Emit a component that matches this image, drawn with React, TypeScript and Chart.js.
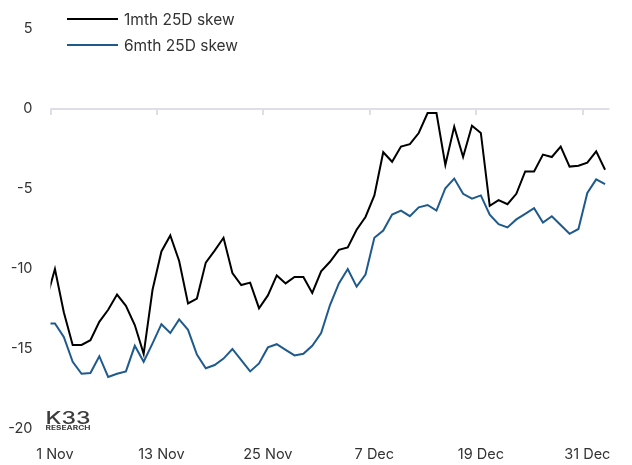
import React, { useEffect, useRef } from "react";
import { Chart, registerables } from "chart.js";

Chart.register(...registerables);

// Daily dates; the first (31 Oct) sits just left of the visible range so the line enters from the edge.
const dates = [
  "31 Oct",
  "1 Nov", "2 Nov", "3 Nov", "4 Nov", "5 Nov", "6 Nov", "7 Nov", "8 Nov", "9 Nov", "10 Nov",
  "11 Nov", "12 Nov", "13 Nov", "14 Nov", "15 Nov", "16 Nov", "17 Nov", "18 Nov", "19 Nov", "20 Nov",
  "21 Nov", "22 Nov", "23 Nov", "24 Nov", "25 Nov", "26 Nov", "27 Nov", "28 Nov", "29 Nov", "30 Nov",
  "1 Dec", "2 Dec", "3 Dec", "4 Dec", "5 Dec", "6 Dec", "7 Dec", "8 Dec", "9 Dec", "10 Dec",
  "11 Dec", "12 Dec", "13 Dec", "14 Dec", "15 Dec", "16 Dec", "17 Dec", "18 Dec", "19 Dec", "20 Dec",
  "21 Dec", "22 Dec", "23 Dec", "24 Dec", "25 Dec", "26 Dec", "27 Dec", "28 Dec", "29 Dec", "30 Dec",
  "31 Dec", "1 Jan", "2 Jan",
];

const skew1m = [
  -12.0,
  -10.0, -12.7, -14.75, -14.75, -14.45, -13.3, -12.55, -11.6, -12.3, -13.5,
  -15.3, -11.3, -8.9, -7.9, -9.5, -12.15, -11.85, -9.6, -8.85, -8.05,
  -10.25, -11.0, -10.85, -12.45, -11.65, -10.4, -10.9, -10.5, -10.5, -11.5,
  -10.15, -9.55, -8.8, -8.65, -7.55, -6.75, -5.4, -2.7, -3.3, -2.35,
  -2.2, -1.5, -0.25, -0.25, -3.5, -1.1, -3.0, -1.05, -1.5, -6.05,
  -5.7, -5.95, -5.3, -3.9, -3.9, -2.85, -3.0, -2.35, -3.6, -3.55,
  -3.35, -2.65, -3.8,
];

const skew6m = [
  -13.4,
  -13.4, -14.25, -15.8, -16.55, -16.5, -15.45, -16.75, -16.55, -16.4, -14.8,
  -15.8, -14.65, -13.45, -14.0, -13.15, -13.8, -15.35, -16.2, -16.0, -15.6,
  -15.0, -15.7, -16.4, -15.9, -14.9, -14.7, -15.05, -15.4, -15.3, -14.8,
  -14.0, -12.25, -10.9, -10.0, -11.1, -10.35, -8.05, -7.6, -6.6, -6.35,
  -6.7, -6.15, -6.0, -6.35, -4.95, -4.35, -5.3, -5.6, -5.4, -6.6,
  -7.2, -7.4, -6.9, -6.55, -6.2, -7.1, -6.7, -7.25, -7.8, -7.5,
  -5.25, -4.4, -4.7,
];

const tickDates = ["1 Nov", "13 Nov", "25 Nov", "7 Dec", "19 Dec", "31 Dec"];
const firstDate = "1 Nov";
const lastDate = "2 Jan";
const yMin = -20;
const yMax = 5;
const yStep = 5;

const seriesNames = ["1mth 25D skew", "6mth 25D skew"];
const seriesColors = ["#000000", "#1F5A8C"];

const FONT = "Inter, 'Open Sans', sans-serif";
const TEXT = "#333333";

// Horizontal axis line at zero with small tick marks between categories.
const zeroAxisPlugin = {
  id: "zeroAxis",
  beforeDatasetsDraw(chart: any) {
    const { ctx, chartArea, scales } = chart;
    const x = scales.x;
    const y = scales.y;
    const y0 = y.getPixelForValue(0);
    const half = (x.getPixelForValue(1) - x.getPixelForValue(0)) / 2;
    ctx.save();
    ctx.strokeStyle = "#DCE0E6";
    ctx.lineWidth = 2;
    ctx.beginPath();
    ctx.moveTo(chartArea.left, y0);
    ctx.lineTo(chartArea.right, y0);
    tickDates.forEach((d) => {
      const idx = dates.indexOf(d);
      const px = Math.round(x.getPixelForValue(idx) - half);
      ctx.moveTo(px, y0);
      ctx.lineTo(px, y0 + 6);
    });
    ctx.stroke();
    ctx.restore();
  },
};

// Legend drawn in the upper-left corner, over the plot.
const legendPlugin = {
  id: "cornerLegend",
  afterDraw(chart: any) {
    const { ctx } = chart;
    ctx.save();
    chart.data.datasets.forEach((ds: any, i: number) => {
      const yy = 19 + i * 26;
      ctx.strokeStyle = ds.borderColor;
      ctx.lineWidth = 2;
      ctx.beginPath();
      ctx.moveTo(67, yy);
      ctx.lineTo(118, yy);
      ctx.stroke();
      ctx.fillStyle = TEXT;
      ctx.font = `15.5px ${FONT}`;
      ctx.textBaseline = "middle";
      ctx.textAlign = "left";
      ctx.fillText(ds.label, 124, yy + 1);
    });
    ctx.restore();
  },
};

// Small wordmark in the lower-left corner.
const brandPlugin = {
  id: "brand",
  afterDraw(chart: any) {
    const { ctx } = chart;
    const left = 45.5;
    const w = 45;
    ctx.save();
    ctx.fillStyle = "#3C3C3C";
    ctx.textBaseline = "alphabetic";
    ctx.textAlign = "left";
    ctx.font = `500 17px ${FONT}`;
    let m = ctx.measureText("K33").width;
    ctx.save();
    ctx.translate(left, 424);
    ctx.scale(w / m, 1);
    ctx.fillText("K33", 0, 0);
    ctx.restore();
    ctx.font = `bold 6px ${FONT}`;
    m = ctx.measureText("RESEARCH").width;
    ctx.save();
    ctx.translate(left, 430);
    ctx.scale(w / m, 1);
    ctx.fillText("RESEARCH", 0, 0);
    ctx.restore();
    ctx.restore();
  },
};

export default function App() {
  const canvasRef = useRef<HTMLCanvasElement | null>(null);

  useEffect(() => {
    if (!canvasRef.current) return;
    const chart = new Chart(canvasRef.current, {
      type: "line",
      data: {
        labels: dates,
        datasets: [
          {
            label: seriesNames[0],
            data: skew1m,
            borderColor: seriesColors[0],
            backgroundColor: seriesColors[0],
            borderWidth: 2,
            pointRadius: 0,
            tension: 0,
            clip: 0,
          },
          {
            label: seriesNames[1],
            data: skew6m,
            borderColor: seriesColors[1],
            backgroundColor: seriesColors[1],
            borderWidth: 2,
            pointRadius: 0,
            tension: 0,
            clip: 0,
          },
        ],
      },
      options: {
        animation: false,
        responsive: true,
        maintainAspectRatio: false,
        layout: { padding: { left: 0, right: 22.5, top: 29, bottom: 0 } },
        plugins: {
          legend: { display: false },
          tooltip: { enabled: false },
        },
        scales: {
          x: {
            type: "category",
            min: firstDate,
            max: lastDate,
            offset: true,
            grid: { display: false, drawTicks: false },
            border: { display: false },
            afterFit: (s: any) => {
              s.height = 36;
            },
            ticks: {
              autoSkip: false,
              maxRotation: 0,
              padding: 17,
              color: TEXT,
              font: { family: FONT, size: 14.5 },
              callback: function (this: any, value: any) {
                const lbl = dates[value as number];
                return tickDates.includes(lbl) ? lbl : "";
              },
            },
          },
          y: {
            min: yMin,
            max: yMax,
            grid: { display: false, drawTicks: false },
            border: { display: false },
            afterFit: (s: any) => {
              s.width = 50.5;
            },
            ticks: {
              stepSize: yStep,
              padding: 18,
              color: TEXT,
              font: { family: FONT, size: 14.5 },
            },
          },
        },
      },
      plugins: [zeroAxisPlugin, legendPlugin, brandPlugin],
    });
    return () => chart.destroy();
  }, []);

  return (
    <div style={{ position: "fixed", left: 0, top: 0, width: 632, height: 465, background: "#fff" }}>
      <canvas ref={canvasRef} />
    </div>
  );
}
